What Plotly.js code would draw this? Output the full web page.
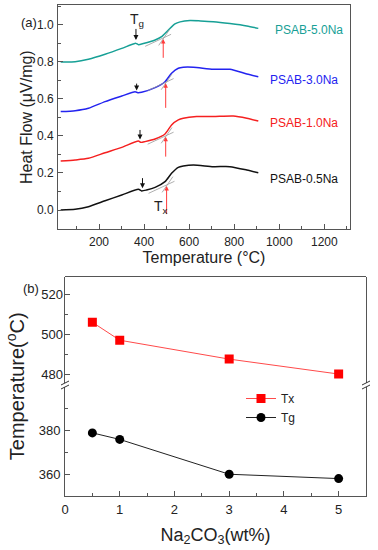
<!DOCTYPE html>
<html><head><meta charset="utf-8">
<script src="https://cdn.plot.ly/plotly-3.0.1.min.js"></script>
<style>html,body{margin:0;padding:0;background:#fff}#chart{width:378px;height:550px}</style>
</head><body><div id="chart"></div>
<script>
const FONT = 'Liberation Sans, Arial, sans-serif';

// ---------- panel (a): DSC curves ----------
const t50 = [30, 94, 153, 227, 301, 352, 364, 375, 397, 449, 478, 508, 537, 560, 604, 650, 707, 781, 856, 907];
const hf50 = [0.799, 0.800, 0.813, 0.840, 0.872, 0.896, 0.899, 0.892, 0.898, 0.917, 0.935, 0.971, 1.004, 1.015, 1.022, 1.020, 1.016, 1.006, 0.993, 0.980];
const t30 = [30, 94, 153, 227, 301, 360, 372, 389, 449, 493, 522, 552, 574, 619, 707, 781, 856, 907];
const hf30 = [0.531, 0.536, 0.549, 0.585, 0.615, 0.638, 0.633, 0.635, 0.660, 0.692, 0.738, 0.765, 0.770, 0.770, 0.759, 0.759, 0.734, 0.719];
const t10 = [30, 94, 153, 227, 301, 375, 386, 404, 449, 493, 522, 552, 574, 633, 707, 796, 856, 907];
const hf10 = [0.264, 0.270, 0.279, 0.309, 0.338, 0.372, 0.365, 0.369, 0.383, 0.410, 0.459, 0.486, 0.495, 0.504, 0.504, 0.507, 0.495, 0.480];
const t05 = [30, 94, 153, 227, 301, 375, 389, 411, 449, 493, 522, 552, 574, 619, 707, 781, 856, 907];
const hf05 = [0.000, 0.004, 0.018, 0.050, 0.081, 0.112, 0.103, 0.108, 0.122, 0.153, 0.198, 0.230, 0.237, 0.243, 0.234, 0.234, 0.216, 0.201];
const curveNames = ['PSAB-5.0Na', 'PSAB-3.0Na', 'PSAB-1.0Na', 'PSAB-0.5Na'];
const curveColors = ['#17a096', '#2323f0', '#f52020', '#111111'];
const labelY = [0.971, 0.702, 0.471, 0.167];
// arrow markers (order: 5.0, 3.0, 1.0, 0.5)
const tgArrowT = [364, 367, 382, 393];
const tgArrowTip = [0.917, 0.645, 0.38, 0.117];
const tgArrowTail = [0.985, 0.69, 0.44, 0.18];
const txArrowT = [485, 496, 496, 500];
const txArrowTip = [0.923, 0.684, 0.395, 0.13];
const txArrowTail = [0.813, 0.543, 0.28, -0.03];

// ---------- panel (b): Tx and Tg vs Na2CO3 ----------
const na = [0.5, 1, 3, 5];
const tx = [506, 497, 487.5, 480];
const tg = [379, 376, 360, 358];

const W = 378, H = 550;
const px = x => x / W, py = y => 1 - y / H;

const series = [[t50, hf50], [t30, hf30], [t10, hf10], [t05, hf05]];
const traces = series.map((s, i) => ({
  x: s[0], y: s[1], type: 'scatter', mode: 'lines', xaxis: 'x', yaxis: 'y',
  line: {color: curveColors[i], width: 1.5, shape: 'spline', smoothing: 0.6},
  name: curveNames[i], showlegend: false, hoverinfo: 'skip'
}));
traces.push({x: na, y: tx, type: 'scatter', mode: 'lines+markers', name: 'Tx', xaxis: 'x2', yaxis: 'y3',
  line: {color: '#ff4a4a', width: 1}, marker: {symbol: 'square', size: 9, color: '#ff0000'}});
traces.push({x: na, y: tg, type: 'scatter', mode: 'lines+markers', name: 'Tg', xaxis: 'x2', yaxis: 'y2',
  line: {color: '#222', width: 1}, marker: {symbol: 'circle', size: 9, color: '#000'}});

const axCol = '#555';
const common = {showgrid: false, zeroline: false, showline: true, linecolor: axCol, linewidth: 1,
  ticks: 'inside', ticklen: 5, tickcolor: axCol, tickfont: {family: FONT, size: 12, color: '#222'},
  ticklabelstandoff: 1};

const annotations = [];
curveNames.forEach((n, i) => annotations.push({x: 950 + (i === 0 ? 22 : 0), y: labelY[i], xref: 'x', yref: 'y',
  text: n, showarrow: false, xanchor: 'left', yanchor: 'middle', font: {family: FONT, size: 12, color: curveColors[i]}}));
for (let i = 0; i < 4; i++) {
  annotations.push({x: tgArrowT[i], y: tgArrowTip[i], ax: tgArrowT[i], ay: tgArrowTail[i], xref: 'x', yref: 'y',
    axref: 'x', ayref: 'y', text: '', showarrow: true, arrowhead: 2, arrowsize: 1, arrowwidth: 1, arrowcolor: '#111'});
  annotations.push({x: txArrowT[i], y: txArrowTip[i], ax: txArrowT[i], ay: txArrowTail[i], xref: 'x', yref: 'y',
    axref: 'x', ayref: 'y', text: '', showarrow: true, arrowhead: 2, arrowsize: 0.9, arrowwidth: 1, arrowcolor: '#ff3b3b'});
}
annotations.push({x: 368, y: 1.025, xref: 'x', yref: 'y', text: 'T<sub>g</sub>', showarrow: false,
  font: {family: FONT, size: 14, color: '#222'}});
annotations.push({x: 474, y: 0.015, xref: 'x', yref: 'y', text: 'T<sub>x</sub>', showarrow: false,
  font: {family: FONT, size: 14, color: '#222'}});
annotations.push({x: px(19), y: py(13), xref: 'paper', yref: 'paper', text: '(a)', showarrow: false,
  font: {family: FONT, size: 13, color: '#222'}});
annotations.push({x: px(21), y: py(288), xref: 'paper', yref: 'paper', text: '(b)', showarrow: false,
  font: {family: FONT, size: 13, color: '#222'}});

const shapes = [];
// tangent construction lines around Tx
for (let i = 0; i < 4; i++) {
  const T = txArrowT[i], v = txArrowTip[i];
  shapes.push({type: 'line', xref: 'x', yref: 'y', x0: T - 80, y0: v - 0.04, x1: T + 35, y1: v + 0.025,
    line: {color: '#9a9a9a', width: 0.8}});
  shapes.push({type: 'line', xref: 'x', yref: 'y', x0: T - 20, y0: v - 0.035, x1: T + 28, y1: v + 0.05,
    line: {color: '#9a9a9a', width: 0.8}});
}
// panel (b) frame geometry (px)
const bL = 65, bR = 366, bT = 276.5, bB = 496, brk = 385;
// lower axis scale: 350..401 over bB..brk, extended to full panel height
const lowLo = 350, lowHi = 401;
const lowFullHi = lowLo + (lowHi - lowLo) * (bB - bT) / (bB - brk);
shapes.push({type: 'line', xref: 'paper', yref: 'paper', x0: px(bL), x1: px(bR), y0: py(bT), y1: py(bT),
  line: {color: axCol, width: 1}});
// axis break marks
[bL, bR].forEach(xb => {
  shapes.push({type: 'rect', xref: 'paper', yref: 'paper', x0: px(xb - 2), x1: px(xb + 2), y0: py(brk + 2), y1: py(brk - 2),
    fillcolor: '#fff', line: {width: 0}});
  shapes.push({type: 'line', xref: 'paper', yref: 'paper', x0: px(xb - 4), y0: py(brk + 4), x1: px(xb + 4), y1: py(brk),
    line: {color: '#333', width: 1}});
  shapes.push({type: 'line', xref: 'paper', yref: 'paper', x0: px(xb - 4), y0: py(brk), x1: px(xb + 4), y1: py(brk - 4),
    line: {color: '#333', width: 1}});
});

const layout = {
  width: W, height: H, margin: {l: 0, r: 0, t: 0, b: 0}, paper_bgcolor: '#fff', plot_bgcolor: '#fff',
  font: {family: FONT, color: '#222'}, hovermode: false,
  xaxis: Object.assign({}, common, {domain: [px(58), px(350)], anchor: 'y', range: [18, 1314],
    tick0: 0, dtick: 200, mirror: true, minor: {dtick: 100, ticks: 'inside', ticklen: 3, tickcolor: axCol},
    title: {text: 'Temperature (°C)', font: {family: FONT, size: 16, color: '#222'}, standoff: 0}}),
  yaxis: Object.assign({}, common, {domain: [py(229.3), py(5)], anchor: 'x', range: [-0.104, 1.106],
    tick0: 0, dtick: 0.2, tickformat: '.1f', mirror: true, minor: {dtick: 0.1, ticks: 'inside', ticklen: 3, tickcolor: axCol},
    title: {text: 'Heat Flow (μV/mg)', font: {family: FONT, size: 16, color: '#222'}, standoff: 0}}),
  xaxis2: Object.assign({}, common, {domain: [px(bL), px(bR)], anchor: 'y2', range: [0, 5.5],
    tick0: 0, dtick: 1, minor: {dtick: 0.5, ticks: 'inside', ticklen: 3, tickcolor: axCol},
    tickfont: {family: FONT, size: 13, color: '#222'},
    title: {text: 'Na<sub>2</sub>CO<sub>3</sub>(wt%)', font: {family: FONT, size: 18, color: '#222'}, standoff: 12}}),
  yaxis2: Object.assign({}, common, {domain: [py(bB), py(bT)], anchor: 'x2', range: [lowLo, lowFullHi],
    tickvals: [360, 380], mirror: true, minor: {tickvals: [370, 390], ticks: 'inside', ticklen: 3, tickcolor: axCol},
    tickfont: {family: FONT, size: 13, color: '#222'},
    title: {text: 'Temperature(<sup>o</sup>C)', font: {family: FONT, size: 20, color: '#222'}, standoff: 8}}),
  yaxis3: Object.assign({}, common, {domain: [py(brk), py(bT)], anchor: 'x2', range: [474.5, 529], showline: false,
    tickvals: [480, 500, 520], minor: {tickvals: [490, 510], ticks: 'inside', ticklen: 3, tickcolor: axCol},
    tickfont: {family: FONT, size: 13, color: '#222'}}),
  legend: {x: px(241), y: py(384), xanchor: 'left', yanchor: 'top', bgcolor: 'rgba(0,0,0,0)',
    font: {family: FONT, size: 12, color: '#222'}, itemwidth: 30, tracegroupgap: 0},
  annotations: annotations, shapes: shapes
};

Plotly.newPlot('chart', traces, layout, {staticPlot: true, displayModeBar: false});
</script>
</body></html>
